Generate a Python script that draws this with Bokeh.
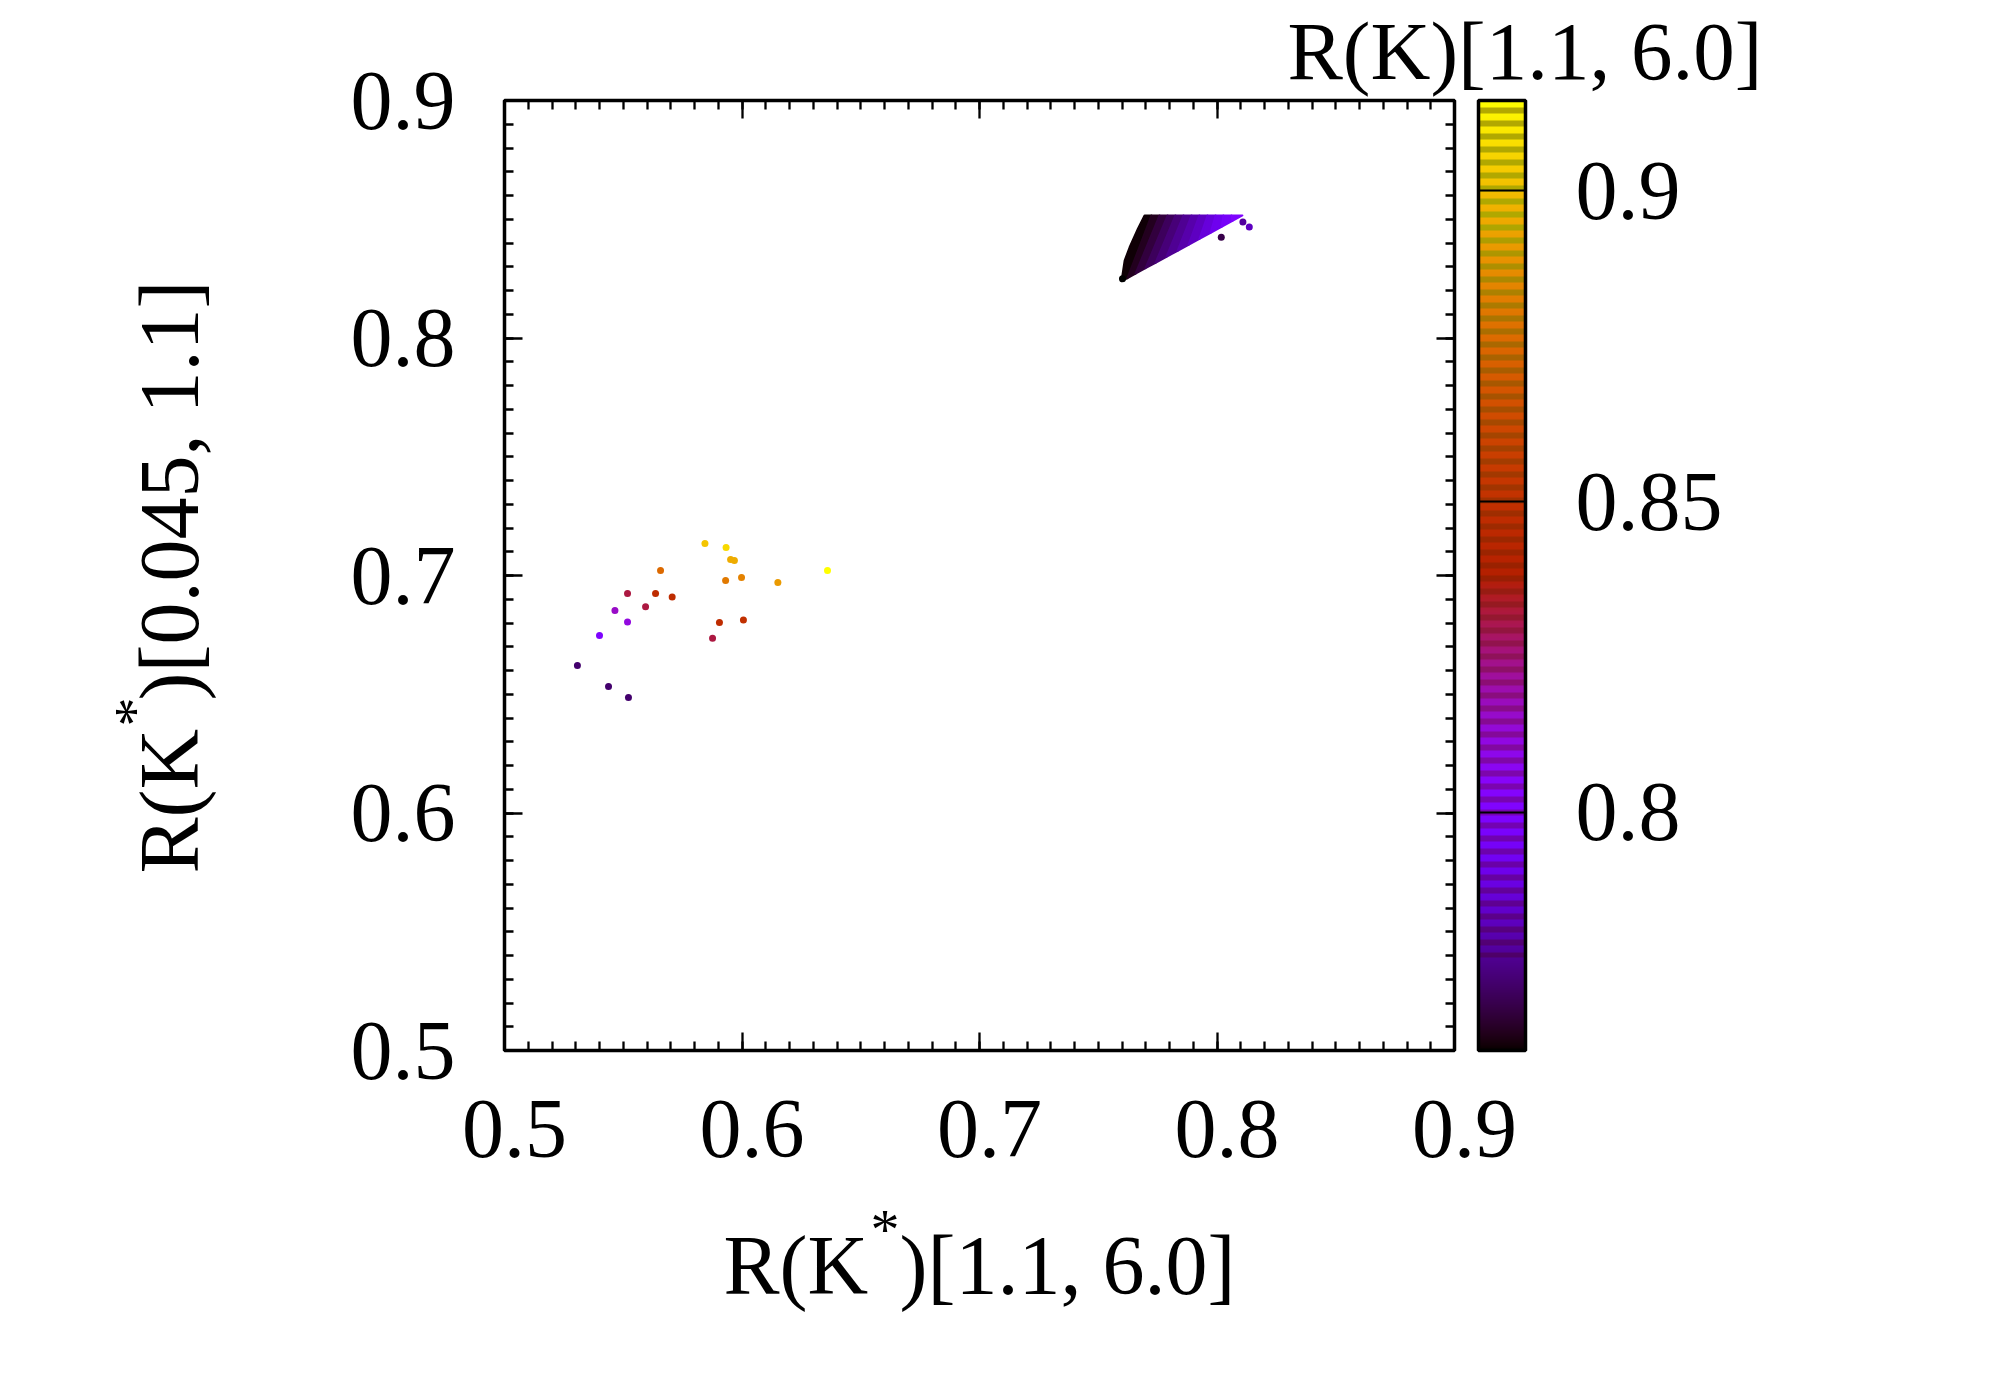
import math

from bokeh.embed import file_html
from bokeh.models import ColorBar, FixedTicker, Label, LinearAxis, LinearColorMapper, Range1d
from bokeh.plotting import figure
from bokeh.resources import INLINE

FONT = "Liberation Serif"

tick_vals = [0.5, 0.6, 0.7, 0.8, 0.9]
minor_vals = [round(0.5 + i * 0.01, 2) for i in range(41)]
cbar_ticks = [0.8, 0.85, 0.9]
z_low = 0.7617
z_high = 0.9145

# scattered points, R(K*)[1.1, 6.0] / R(K*)[0.045, 1.1] / R(K)[1.1, 6.0]
pts_x = [0.5844, 0.5933, 0.5952, 0.5968, 0.5657, 0.6360, 0.5931, 0.5998, 0.6151, 0.5518, 0.5636,
         0.5706, 0.5594, 0.5465, 0.5518, 0.5905, 0.6006, 0.5876, 0.5400, 0.5307, 0.5438, 0.5522,
         0.8018, 0.8109, 0.8136, 0.7602]
pts_y = [0.7135, 0.7118, 0.7067, 0.7063, 0.7021, 0.7021, 0.6979, 0.6992, 0.6971, 0.6924, 0.6924,
         0.6909, 0.6868, 0.6853, 0.6804, 0.6802, 0.6813, 0.6736, 0.6747, 0.6621, 0.6533, 0.6486,
         0.8424, 0.8488, 0.8467, 0.8250]
pts_z = [0.9023, 0.9070, 0.8960, 0.8960, 0.8760, 0.9145, 0.8810, 0.8840, 0.8916, 0.8320, 0.8473,
         0.8473, 0.8320, 0.8167, 0.8121, 0.8473, 0.8500, 0.8320, 0.8000, 0.7730, 0.7730, 0.7730,
         0.7690, 0.7780, 0.7830, 0.7617]

wedge_top_y = 0.8516
wedge_top_x = [0.7695, 0.7724, 0.7758, 0.7792, 0.7825, 0.7859, 0.7893, 0.7926, 0.7960, 0.7994, 0.8027, 0.8061, 0.8107]
wedge_bot_x = [0.7598, 0.7623, 0.7657, 0.7699, 0.7741, 0.7787, 0.7834, 0.7880, 0.7926, 0.7973, 0.8019, 0.8065, 0.8107]
wedge_bot_y = [0.8239, 0.8252, 0.8271, 0.8294, 0.8316, 0.8342, 0.8367, 0.8392, 0.8417, 0.8443, 0.8468, 0.8493, 0.8516]
wedge_z = [0.7625, 0.7650, 0.7680, 0.7710, 0.7740, 0.7770, 0.7800, 0.7830, 0.7870, 0.7910, 0.7950, 0.8000]
# curved left side of the cluster
edge_x = [0.7611, 0.7632, 0.7667]
edge_y = [0.8326, 0.8382, 0.8460]


# gnuplot's default 7,5,15 palette
def pm3d(x):
    return math.sqrt(x), x ** 3, max(0.0, math.sin(2 * math.pi * x))


def to_hex(r, g, b):
    return "#%02x%02x%02x" % (int(r * 255), int(g * 255), int(b * 255))


smooth = [to_hex(*pm3d(i / 255)) for i in range(256)]

# colour bar has dark bands over most of its height
striped = []
for row in range(950):
    x = row / 949
    r, g, b = pm3d(x)
    from_top = 949 - row
    if from_top < 857 and from_top % 13 >= 7:
        r, g, b = r * (1 - 0.3 * x), min(g, 0.66), b * 0.7
    striped.append(to_hex(r, g, b))

mapper = LinearColorMapper(palette=smooth, low=z_low, high=z_high)
bar_mapper = LinearColorMapper(palette=striped, low=z_low, high=z_high)

p = figure(frame_width=950, frame_height=950, output_backend="svg", toolbar_location=None,
           x_range=Range1d(0.5, 0.9), y_range=Range1d(0.5, 0.9),
           min_border_left=504, min_border_top=100, min_border_bottom=330, min_border_right=500,
           x_axis_location=None, y_axis_location=None)
p.grid.visible = False
p.outline_line_color = "black"
p.outline_line_width = 3.5


def style_axis(ax, labels):
    ax.ticker = FixedTicker(ticks=tick_vals, minor_ticks=minor_vals)
    ax.axis_line_color = None
    ax.major_tick_in = 18
    ax.major_tick_out = 0
    ax.minor_tick_in = 9
    ax.minor_tick_out = 0
    ax.major_tick_line_width = 2.3
    ax.minor_tick_line_width = 2.3
    ax.major_label_text_font = FONT
    ax.major_label_text_font_size = "84px"
    ax.major_label_text_color = "black"
    if not labels:
        ax.major_label_overrides = {t: "" for t in tick_vals}
        ax.major_label_standoff = 0


bottom = LinearAxis()
style_axis(bottom, False)
left = LinearAxis()
style_axis(left, True)
left.major_label_standoff = 49
top = LinearAxis()
style_axis(top, False)
right = LinearAxis()
style_axis(right, False)
p.add_layout(bottom, "below")
p.add_layout(left, "left")
p.add_layout(top, "above")
p.add_layout(right, "right")

# cluster strips
xs, ys = [], []
for i in range(len(wedge_z)):
    sx = [wedge_top_x[i], wedge_top_x[i + 1], wedge_bot_x[i + 1], wedge_bot_x[i]]
    sy = [wedge_top_y, wedge_top_y, wedge_bot_y[i + 1], wedge_bot_y[i]]
    if i == 0:
        sx += edge_x
        sy += edge_y
    xs.append(sx)
    ys.append(sy)
transform = {"field": "z", "transform": mapper}
p.patches("xs", "ys", source=dict(xs=xs, ys=ys, z=wedge_z), fill_color=transform, line_color=transform,
          line_width=2, line_join="round")

p.scatter(pts_x, pts_y, size=7, marker="circle", line_color=None,
          fill_color=[smooth[int((z - z_low) / (z_high - z_low) * 255)] for z in pts_z])

bar = ColorBar(color_mapper=bar_mapper, ticker=FixedTicker(ticks=cbar_ticks), width=47, height=950,
               padding=0, margin=0, location=(24, 0), major_label_text_font=FONT,
               major_label_text_font_size="84px", major_label_text_color="black", label_standoff=50, major_tick_in=47,
               major_tick_line_color="black", major_tick_line_width=2, minor_tick_line_color=None,
               bar_line_color="black", bar_line_width=3.5, border_line_color=None)
p.add_layout(bar, "right")


def put(text, x, y, side, size=84, angle=0.0):
    # x, y = page pixel of the text baseline start; labels only escape the frame clip
    # when they live in a side panel, and the tiny line height keeps that panel small
    # (it also moves the text down by 0.4em, taken off here)
    if angle:
        x -= 0.4 * size
    else:
        y -= 0.4 * size
    p.add_layout(Label(x=x, y=y, x_units="canvas", y_units="canvas", text=text, angle=angle,
                       text_font=FONT, text_font_size="%dpx" % size, text_color="black",
                       text_baseline="alphabetic", text_align="left", text_line_height=0.05), side)


put("R(K)[1.1, 6.0]", 1287, 84, "above", size=83)

put("R(K", 723, 1299, "below")
put("*", 870, 1252, "below", size=58)
put(")[1.1, 6.0]", 899, 1299, "below")

up = math.pi / 2
put("R(K", 203, 873, "left", angle=up)
put("*", 157, 726, "left", size=58, angle=up)
put(")[0.045, 1.1]", 203, 700, "left", angle=up)

# x tick labels sit a little right of their ticks
for v in tick_vals:
    p.add_layout(Label(x=v, y=1162 - 0.4 * 84, x_units="data", y_units="canvas", x_offset=10, text=str(v),
                       text_font=FONT, text_font_size="84px", text_color="black",
                       text_baseline="alphabetic", text_align="center", text_line_height=0.05), "below")

open("out.html", "w").write(file_html(p, INLINE))
